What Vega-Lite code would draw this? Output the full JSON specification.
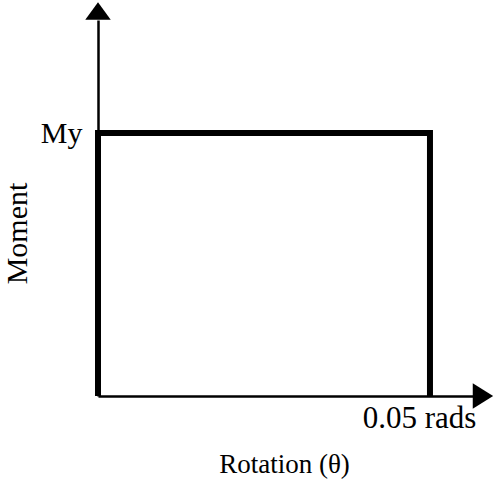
{
  "$schema": "https://vega.github.io/schema/vega-lite/v6.json",
  "width": 375,
  "height": 376,
  "autosize": {"type": "none"},
  "padding": {"left": 98, "top": 20, "right": 25, "bottom": 90},
  "background": "white",
  "config": {"view": {"stroke": null}, "font": "Liberation Serif"},
  "datasets": {
    "curve": [
      {"step": 1, "rotation": 0, "moment": 0},
      {"step": 2, "rotation": 0, "moment": 1},
      {"step": 3, "rotation": 0.05, "moment": 1},
      {"step": 4, "rotation": 0.05, "moment": 0}
    ],
    "arrows": [
      {"axis": "Moment", "rotation": 0, "moment": 1.4639},
      {"axis": "Rotation", "rotation": 0.05798, "moment": 0}
    ]
  },
  "layer": [
    {
      "data": {"name": "curve"},
      "mark": {"type": "line", "color": "black", "strokeWidth": 6, "strokeJoin": "miter", "strokeCap": "butt", "clip": false},
      "encoding": {
        "x": {
          "field": "rotation", "type": "quantitative",
          "scale": {"domain": [0, 0.05648], "nice": false, "zero": false},
          "axis": {
            "values": [0.05],
            "labelExpr": "'0.05 rads'",
            "grid": false,
            "ticks": false,
            "tickSize": 0,
            "domainColor": "black",
            "domainWidth": 2.5,
            "labelFont": "Liberation Serif",
            "labelFontSize": 31,
            "labelColor": "black",
            "labelPadding": 7,
            "labelOffset": -11,
            "labelFlush": false,
            "labelAlign": "center",
            "title": "Rotation (θ)",
            "titleFont": "Liberation Serif",
            "titleFontSize": 27,
            "titleFontWeight": "normal",
            "titleColor": "black",
            "titleX": 186,
            "titleY": 76,
            "titleBaseline": "alphabetic",
            "titleAlign": "center"
          }
        },
        "y": {
          "field": "moment", "type": "quantitative",
          "scale": {"domain": [0, 1.4297], "nice": false, "zero": false},
          "axis": {
            "values": [1],
            "labelExpr": "'My'",
            "grid": false,
            "ticks": false,
            "tickSize": 0,
            "domainColor": "black",
            "domainWidth": 2.5,
            "labelFont": "Liberation Serif",
            "labelFontSize": 30,
            "labelColor": "black",
            "labelPadding": 16,
            "labelBaseline": "alphabetic",
            "labelOffset": 9,
            "labelAlign": "right",
            "labelFlush": false,
            "title": "Moment",
            "titleFont": "Liberation Serif",
            "titleFontSize": 30,
            "titleFontWeight": "normal",
            "titleColor": "black",
            "titleAngle": 270,
            "titleX": -72,
            "titleY": 213,
            "titleBaseline": "alphabetic",
            "titleAlign": "center"
          }
        },
        "order": {"field": "step", "type": "quantitative"}
      }
    },
    {
      "data": {"name": "arrows"},
      "mark": {"type": "point", "filled": true, "opacity": 1, "color": "black", "strokeWidth": 0, "size": 650, "clip": false},
      "encoding": {
        "x": {"field": "rotation", "type": "quantitative"},
        "y": {"field": "moment", "type": "quantitative"},
        "shape": {
          "field": "axis", "type": "nominal",
          "scale": {"domain": ["Moment", "Rotation"], "range": ["M0,-0.69L1,0.69L-1,0.69Z", "M-0.8,-1L0.8,0L-0.8,1Z"]},
          "legend": null
        }
      }
    }
  ]
}
